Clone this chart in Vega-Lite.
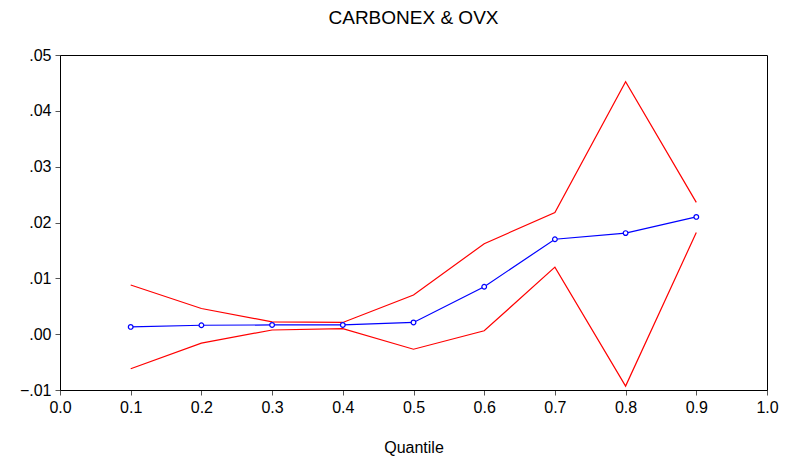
{
  "$schema": "https://vega.github.io/schema/vega-lite/v6.json",
  "autosize": "none",
  "width": 707,
  "height": 335,
  "padding": {"left": 60, "top": 55, "right": 20, "bottom": 72},
  "background": "white",
  "title": {
    "text": "CARBONEX & OVX",
    "font": "Liberation Sans",
    "fontSize": 19,
    "fontWeight": "normal",
    "color": "black",
    "anchor": "middle",
    "offset": 19
  },
  "config": {
    "view": {"stroke": "black", "strokeWidth": 1},
    "axis": {
      "labelFont": "Liberation Sans",
      "titleFont": "Liberation Sans",
      "labelFontSize": 16,
      "titleFontSize": 16,
      "titleFontWeight": "normal",
      "labelColor": "black",
      "titleColor": "black",
      "domainColor": "black",
      "tickColor": "#555555",
      "grid": false
    }
  },
  "data": {
    "values": [
      {"q": 0.1, "series": "Estimate", "v": 0.0013},
      {"q": 0.2, "series": "Estimate", "v": 0.0016},
      {"q": 0.3, "series": "Estimate", "v": 0.00165},
      {"q": 0.4, "series": "Estimate", "v": 0.00165},
      {"q": 0.5, "series": "Estimate", "v": 0.0021},
      {"q": 0.6, "series": "Estimate", "v": 0.0085},
      {"q": 0.7, "series": "Estimate", "v": 0.0170},
      {"q": 0.8, "series": "Estimate", "v": 0.0181},
      {"q": 0.9, "series": "Estimate", "v": 0.0210},
      {"q": 0.1, "series": "Upper", "v": 0.0088},
      {"q": 0.2, "series": "Upper", "v": 0.0046},
      {"q": 0.3, "series": "Upper", "v": 0.0022},
      {"q": 0.4, "series": "Upper", "v": 0.0021},
      {"q": 0.5, "series": "Upper", "v": 0.0070},
      {"q": 0.6, "series": "Upper", "v": 0.0162},
      {"q": 0.7, "series": "Upper", "v": 0.0218},
      {"q": 0.8, "series": "Upper", "v": 0.0452},
      {"q": 0.9, "series": "Upper", "v": 0.0236},
      {"q": 0.1, "series": "Lower", "v": -0.0062},
      {"q": 0.2, "series": "Lower", "v": -0.0016},
      {"q": 0.3, "series": "Lower", "v": 0.00075},
      {"q": 0.4, "series": "Lower", "v": 0.0010},
      {"q": 0.5, "series": "Lower", "v": -0.0027},
      {"q": 0.6, "series": "Lower", "v": 0.0006},
      {"q": 0.7, "series": "Lower", "v": 0.0120},
      {"q": 0.8, "series": "Lower", "v": -0.0093},
      {"q": 0.9, "series": "Lower", "v": 0.0182}
    ]
  },
  "encoding": {
    "x": {
      "field": "q",
      "type": "quantitative",
      "scale": {"domain": [0, 1], "nice": false, "zero": false},
      "axis": {
        "title": "Quantile",
        "values": [0, 0.1, 0.2, 0.3, 0.4, 0.5, 0.6, 0.7, 0.8, 0.9, 1.0],
        "format": ".1f",
        "tickSize": 5,
        "labelPadding": 4,
        "titlePadding": 24,
        "labelFlush": false
      }
    },
    "y": {
      "field": "v",
      "type": "quantitative",
      "scale": {"domain": [-0.01, 0.05], "nice": false, "zero": false},
      "axis": {
        "title": null,
        "values": [-0.01, 0, 0.01, 0.02, 0.03, 0.04, 0.05],
        "labelExpr": "replace(format(datum.value, '.2f'), '0.', '.')",
        "tickSize": 5,
        "labelPadding": 4,
        "labelFlush": false
      }
    },
    "color": {
      "field": "series",
      "type": "nominal",
      "scale": {"domain": ["Estimate", "Upper", "Lower"], "range": ["#0000ff", "#ff0000", "#ff0000"]},
      "legend": null
    }
  },
  "layer": [
    {"mark": {"type": "line", "strokeWidth": 1.2}},
    {
      "transform": [{"filter": "datum.series === 'Estimate'"}],
      "mark": {"type": "point", "shape": "circle", "size": 22, "filled": false, "fill": "white", "fillOpacity": 1, "strokeWidth": 1.2, "opacity": 1}
    }
  ]
}
